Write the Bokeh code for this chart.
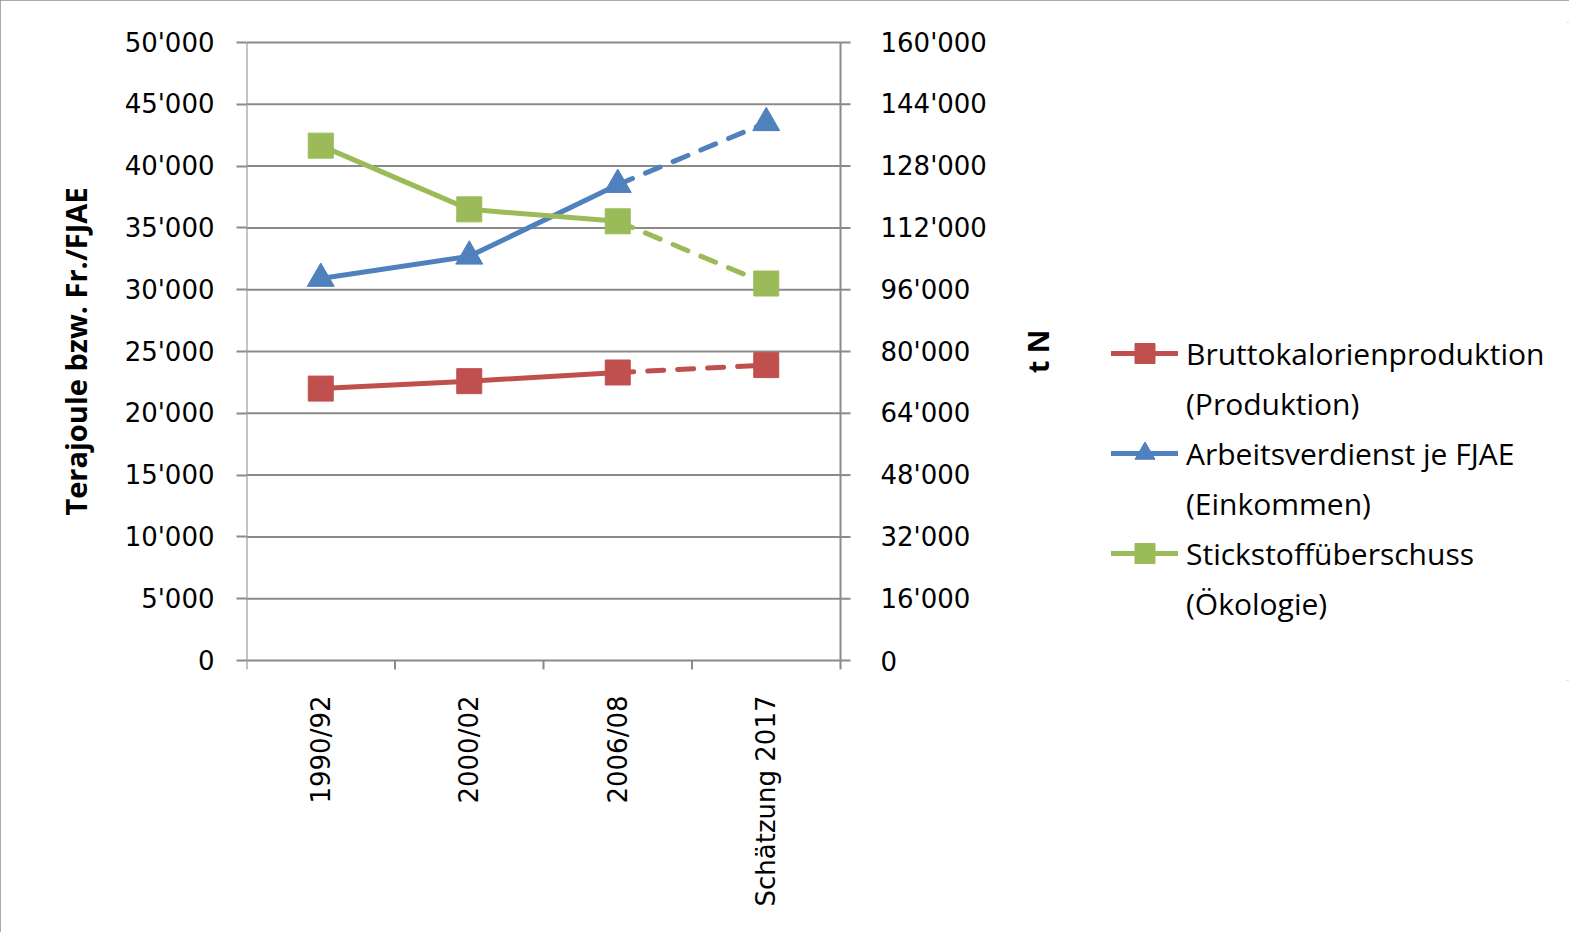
import numpy as np
from bokeh.plotting import figure
from bokeh.models import Range1d, FixedTicker, Legend, LegendItem
from bokeh.core.properties import value
from bokeh.embed import file_html
from bokeh.resources import INLINE

# ---- data ----
categories = ["1990/92", "2000/02", "2006/08", "Schätzung 2017"]
kalorien = [22000, 22600, 23300, 23900]          # Terajoule (left axis)
arbeitsverdienst = [30900, 32700, 38500, 43500]  # Fr./FJAE (left axis)
stickstoff = [133300, 116800, 113700, 97600]     # t N (right axis)

left_ticks = [0, 5000, 10000, 15000, 20000, 25000, 30000, 35000, 40000, 45000, 50000]
left_labels = ["0", "5'000", "10'000", "15'000", "20'000", "25'000", "30'000",
               "35'000", "40'000", "45'000", "50'000"]
right_ticks = [0, 16000, 32000, 48000, 64000, 80000, 96000, 112000, 128000, 144000, 160000]
right_labels = ["0", "16'000", "32'000", "48'000", "64'000", "80'000", "96'000",
                "112'000", "128'000", "144'000", "160'000"]
right_title = "t N"

series_names = [("Bruttokalorienproduktion", "(Produktion)"),
                ("Arbeitsverdienst je FJAE", "(Einkommen)"),
                ("Stickstoffüberschuss", "(Ökologie)")]

RED = "#C0504D"
BLUE = "#4F81BD"
GREEN = "#9BBB59"
GRID = "#8a8a8a"
TICK_FONT = "DejaVu Sans"
TICK_SIZE = "26px"

n = len(categories)
x = [i + 0.5 for i in range(n)]
bounds = list(range(n + 1))

# layout: the chart area is PLOT_W x PLOT_H; the frame is wider (right axis + legend)
# and padded above/below so that edge labels are not clipped
PLOT_W = 594
PLOT_H = 618
PAD = 20
FRAME_W = 1323
FRAME_H = PLOT_H + 2 * PAD
x_end = n * FRAME_W / PLOT_W
y_min, y_max = 0, 50000
r_min, r_max = 0, 160000
u = (y_max - y_min) / PLOT_H
ur = (r_max - r_min) / PLOT_H

p = figure(frame_width=FRAME_W, frame_height=FRAME_H,
           x_range=Range1d(0, x_end), y_range=Range1d(y_min - PAD * u, y_max + PAD * u),
           output_backend="svg", toolbar_location=None,
           min_border_left=246, min_border_right=0, min_border_top=42 - PAD,
           min_border_bottom=272 - PAD)
p.extra_y_ranges = {"right": Range1d(r_min - PAD * ur, r_max + PAD * ur)}
p.outline_line_color = None
p.background_fill_color = "white"
p.border_fill_color = "white"
p.styles = {"outline": "3px solid #8c8c8c", "outline-offset": "-3px"}

# x axis (labels only); line and boundary ticks are drawn at y = 0 below
xa = p.xaxis[0]
xa.ticker = FixedTicker(ticks=x, minor_ticks=bounds)
xa.major_label_overrides = {xv: c for xv, c in zip(x, categories)}
xa.major_label_orientation = np.pi / 2
xa.major_tick_line_color = None
xa.major_tick_out = 0
xa.major_tick_in = 0
xa.minor_tick_line_color = None
xa.axis_line_color = None
xa.major_label_standoff = 11
xa.major_label_text_font = TICK_FONT
xa.major_label_text_font_size = TICK_SIZE
xa.major_label_text_color = "black"
p.xgrid.visible = False
p.ygrid.visible = False

# left axis (labels + ticks); its line is drawn below
ya = p.yaxis[0]
ya.ticker = FixedTicker(ticks=left_ticks)
ya.major_label_overrides = {t: l for t, l in zip(left_ticks, left_labels)}
ya.minor_tick_line_color = None
ya.major_tick_in = 0
ya.major_tick_out = 10
ya.major_tick_line_color = GRID
ya.major_tick_line_width = 2
ya.axis_line_color = None
ya.major_label_standoff = 22
ya.major_label_text_font = TICK_FONT
ya.major_label_text_font_size = TICK_SIZE
ya.major_label_text_color = "black"
ya.axis_label = "Terajoule bzw. Fr./FJAE"
ya.axis_label_text_font = "Open Sans"
ya.axis_label_text_font_style = "bold"
ya.axis_label_text_font_size = "29px"
ya.axis_label_text_color = "black"
ya.axis_label_standoff = 27

# gridlines limited to the chart area
p.segment(x0=[0] * len(left_ticks), y0=left_ticks, x1=[n] * len(left_ticks), y1=left_ticks,
          line_color=GRID, line_width=2)
# left and right axis lines
p.segment(x0=[0, n], y0=[y_min, y_min], x1=[0, n], y1=[y_max, y_max],
          line_color=GRID, line_width=2)
# category boundary ticks on the x axis
p.ray(x=bounds, y=[y_min] * len(bounds), length=9, angle=-np.pi / 2, length_units="screen",
      line_color=GRID, line_width=2)
# right axis ticks, labels and title
p.ray(x=[n] * len(right_ticks), y=right_ticks, length=10, angle=0, length_units="screen",
      line_color=GRID, line_width=2, y_range_name="right")
p.text(x=[n] * len(right_ticks), y=right_ticks, text=right_labels, y_range_name="right",
       x_offset=40, text_align="left", text_baseline="middle",
       text_font=value(TICK_FONT), text_font_size=value(TICK_SIZE), text_color="black")
p.text(x=[n], y=[(y_min + y_max) / 2], text=[right_title], angle=np.pi / 2, x_offset=197,
       text_align="center", text_baseline="middle", text_font=value("Open Sans"),
       text_font_style="bold", text_font_size=value("29px"), text_color="black")

DASH = "16 14"
items = []

def add_series(values, color, marker, names, y_range_name="default"):
    kw = {} if y_range_name == "default" else {"y_range_name": y_range_name}
    solid = p.line(x[:3], values[:3], line_color=color, line_width=5, line_cap="round",
                   line_join="round", **kw)
    p.line(x[2:], values[2:], line_color=color, line_width=5, line_cap="round",
           line_dash=DASH, **kw)
    size = 25 if marker == "square" else 27
    m = p.scatter(x, values, marker=marker, size=size, fill_color=color,
                  line_color=color, **kw)
    # invisible twin, used only to carry the second legend line
    ghost = p.line(x, values, line_alpha=0, **kw)
    items.append(LegendItem(label=names[0], renderers=[solid, m]))
    items.append(LegendItem(label=names[1], renderers=[ghost]))

add_series(kalorien, RED, "square", series_names[0])
add_series(arbeitsverdienst, BLUE, "triangle", series_names[1])
add_series(stickstoff, GREEN, "square", series_names[2], "right")

legend = Legend(items=items, location=(865, 32 + PAD))
legend.background_fill_alpha = 0
legend.border_line_color = None
legend.label_text_font = "Open Sans"
legend.label_text_font_size = "30px"
legend.label_text_color = "black"
legend.glyph_width = 67
legend.glyph_height = 50
legend.label_standoff = 8
legend.spacing = 0
legend.padding = 0
legend.margin = 0
p.add_layout(legend, "center")

open("out.html", "w").write(file_html(p, INLINE))
